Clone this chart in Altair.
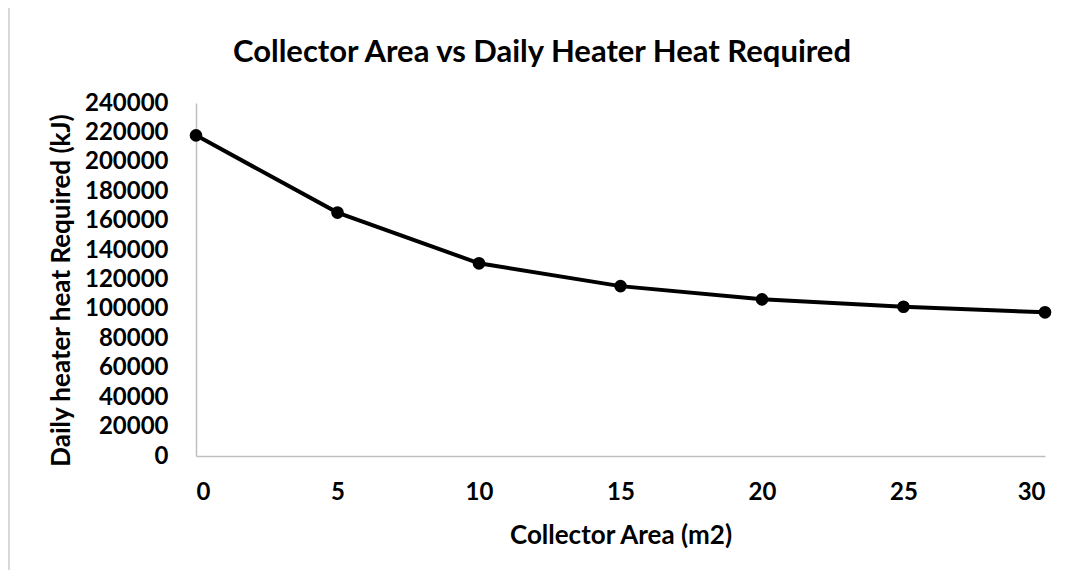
import altair as alt
import pandas as pd

collector_area = [0, 5, 10, 15, 20, 25, 30]
heat_required = [218000, 165500, 131000, 115500, 106500, 101500, 97700]
chart_title = "Collector Area vs Daily Heater Heat Required"

df = pd.DataFrame({"area": collector_area, "heat": heat_required})
one = pd.DataFrame({"t": [chart_title]})

FONT = "Lato"
W, H = 849, 353
LEFT, TOP = 188, 95

base = alt.Chart(df).encode(
    x=alt.X("area:Q", title="Collector Area (m2)",
            scale=alt.Scale(domain=[0, 30], nice=False),
            axis=alt.Axis(values=[0, 5, 10, 15, 20, 25, 30], grid=False, ticks=False,
                          domainColor="#bfbfbf", domainWidth=1.5,
                          labelFont=FONT, labelFontSize=24, labelFontWeight="bold",
                          labelColor="black", labelPadding=24,
                          titleFont=FONT, titleFontSize=26, titleFontWeight="bold",
                          titleColor="black", titlePadding=18)),
    y=alt.Y("heat:Q", title="Daily heater heat Required (kJ)",
            scale=alt.Scale(domain=[0, 240000], nice=False),
            axis=alt.Axis(values=list(range(0, 240001, 20000)), grid=False, ticks=False,
                          format="d",
                          domainColor="#bfbfbf", domainWidth=1.5,
                          labelFont=FONT, labelFontSize=24, labelFontWeight="bold",
                          labelColor="black", labelPadding=28,
                          titleFont=FONT, titleFontSize=26, titleFontWeight="bold",
                          titleColor="black", titlePadding=10, titleY=187)),
)

line = base.mark_line(color="black", strokeWidth=4)
points = base.mark_circle(color="black", opacity=1, size=160)

# light-grey outer chart-area frame (top and left edges visible)
frame_top = alt.Chart(one).mark_rule(color="#d9d9d9", strokeWidth=2).encode(
    x=alt.value(-187), x2=alt.value(880), y=alt.value(-96))
frame_left = alt.Chart(one).mark_rule(color="#d9d9d9", strokeWidth=2).encode(
    y=alt.value(-96), y2=alt.value(470), x=alt.value(-187))

title = alt.Chart(one).mark_text(font=FONT, fontSize=31, fontWeight="bold",
                                 color="black", align="center", baseline="middle").encode(
    text="t:N", x=alt.value(542 - 196), y=alt.value(53 - 103))

chart = (frame_top + frame_left + title + line + points).properties(
    width=W, height=H,
    padding={"left": LEFT, "top": TOP, "right": 1068 - LEFT - W, "bottom": 562 - TOP - H},
    autosize=alt.AutoSizeParams(type="none"),
    view=alt.ViewBackground(stroke="transparent", strokeOpacity=0, strokeWidth=0),
).configure_view(stroke="transparent", strokeOpacity=0, strokeWidth=0).configure(background="white")

chart.save("out.html", embed_options={"renderer": "svg", "actions": False})
